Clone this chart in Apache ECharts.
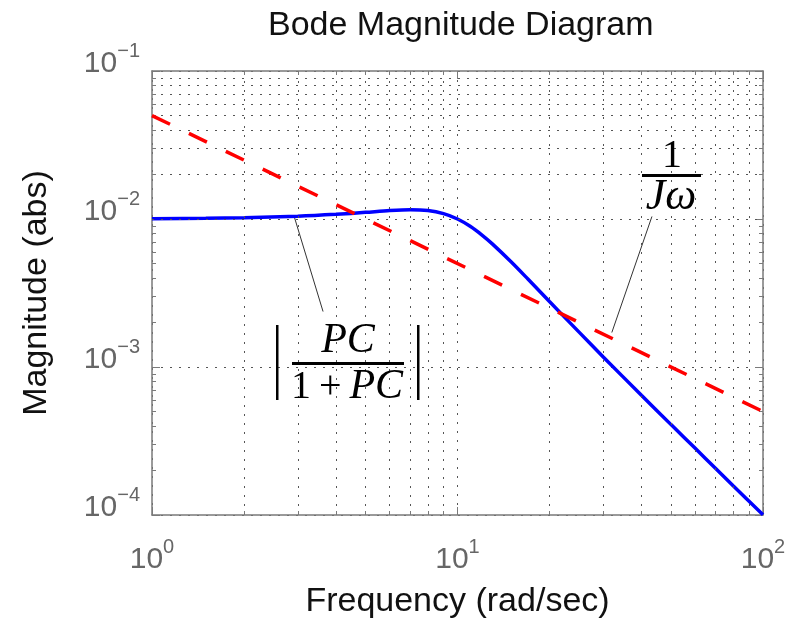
<!DOCTYPE html>
<html>
<head>
<meta charset="utf-8">
<script src="https://cdn.jsdelivr.net/npm/echarts@6/dist/echarts.min.js"></script>
<style>
  html, body { margin: 0; padding: 0; background: #fff; }
  #chart { width: 806px; height: 625px; }
</style>
</head>
<body>
<div id="chart"></div>
<script>
// frequency samples (rad/sec)
const freq = [1, 1.5, 2, 3, 4, 5, 6, 7, 8, 9, 10, 11, 12, 13, 15, 17, 20, 25, 30, 40, 50, 60, 70, 80, 100];
// |PC/(1+PC)|
const closedLoop = [0.01005, 0.01011, 0.0102, 0.01044, 0.01075, 0.01109, 0.0114, 0.01155, 0.0114, 0.01087,
  0.0100, 0.00893, 0.00782, 0.00679, 0.00512, 0.00393, 0.00277, 0.00172, 0.00117, 0.000644,
  0.000408, 0.000282, 0.000206, 0.000157, 0.0001005];
// 1/(J w) reference line (red dashed)
const refFreq = [1, 100];
const refMag = [0.05, 0.0005];
// leader lines from the annotations to the curves
const leaderPC = [[2.92, 0.0104], [3.63, 0.00237]];
const leaderJw = [[43.3, 0.0104], [32.0, 0.00171]];
// minor grid positions
const xMinor = [2, 3, 4, 5, 6, 7, 8, 9, 20, 30, 40, 50, 60, 70, 80, 90];
const yMinor = [2e-4, 3e-4, 4e-4, 5e-4, 6e-4, 7e-4, 8e-4, 9e-4,
  2e-3, 3e-3, 4e-3, 5e-3, 6e-3, 7e-3, 8e-3, 9e-3,
  2e-2, 3e-2, 4e-2, 5e-2, 6e-2, 7e-2, 8e-2, 9e-2];

const FONT = "'Liberation Sans', Arial, sans-serif";
const MATH = "'Liberation Serif', 'DejaVu Serif', serif";
const G = { left: 152, right: 43, top: 71, bottom: 110 };
const plotW = 806 - G.left - G.right;   // x spans 2 decades
const plotH = 625 - G.top - G.bottom;   // y spans 3 decades
const frame = '#7a7a7a';
const gridStyle = { type: [2, 7], color: '#555', width: 1 };

// minor tick length 4px, expressed as a factor in data space
const kx = Math.pow(10, 4 / (plotW / 2));
const ky = Math.pow(10, 4 / (plotH / 3));

const gridLines = [];
xMinor.forEach(v => gridLines.push({ xAxis: v }));
yMinor.forEach(v => gridLines.push({ yAxis: v }));

const minorTicks = [];
xMinor.forEach(v => {
  minorTicks.push([{ coord: [v, 1e-4] }, { coord: [v, 1e-4 * ky] }]);
  minorTicks.push([{ coord: [v, 0.1] }, { coord: [v, 0.1 / ky] }]);
});
yMinor.forEach(v => {
  minorTicks.push([{ coord: [1, v] }, { coord: [kx, v] }]);
  minorTicks.push([{ coord: [100, v] }, { coord: [100 / kx, v] }]);
});

function powLabel(v) {
  const e = Math.round(Math.log10(v));
  return '{b|10}{s|' + (e < 0 ? '\u2212' + (-e) : e) + '}';
}
const labelRich = {
  b: { fontSize: 30, color: '#666', fontFamily: FONT },
  s: { fontSize: 20, color: '#666', fontFamily: FONT, padding: [0, 0, 26, 0] }
};

const chart = echarts.init(document.getElementById('chart'));
chart.setOption({
  animation: false,
  backgroundColor: '#fff',
  title: {
    text: 'Bode Magnitude Diagram',
    left: 263,
    top: 4,
    textStyle: { fontSize: 34, fontWeight: 'normal', color: '#111', fontFamily: FONT }
  },
  grid: { left: G.left, right: G.right, top: G.top, bottom: G.bottom, containLabel: false, outerBoundsMode: 'none' },
  xAxis: [
    {
      type: 'log', logBase: 10, min: 1, max: 100, position: 'bottom',
      name: 'Frequency (rad/sec)', nameLocation: 'middle', nameGap: 70,
      nameTextStyle: { fontSize: 34, color: '#111', fontFamily: FONT },
      axisLine: { lineStyle: { color: frame, width: 1.5 } },
      axisTick: { inside: true, length: 8, lineStyle: { color: frame } },
      axisLabel: { formatter: powLabel, rich: labelRich, margin: 22 },
      splitLine: { show: true, lineStyle: gridStyle }
    },
    {
      type: 'log', logBase: 10, min: 1, max: 100, position: 'top',
      axisLine: { lineStyle: { color: frame, width: 1.5 } },
      axisTick: { inside: true, length: 8, lineStyle: { color: frame } },
      axisLabel: { show: false },
      splitLine: { show: false }
    }
  ],
  yAxis: [
    {
      type: 'log', logBase: 10, min: 1e-4, max: 1e-1, position: 'left',
      name: 'Magnitude (abs)', nameLocation: 'middle', nameGap: 98,
      nameTextStyle: { fontSize: 34, color: '#111', fontFamily: FONT },
      axisLine: { show: true, lineStyle: { color: frame, width: 1.5 } },
      axisTick: { show: true, inside: true, length: 8, lineStyle: { color: frame } },
      axisLabel: { formatter: powLabel, rich: labelRich, margin: 12, verticalAlign: 'middle', padding: [0, 0, 14, 0] },
      splitLine: { show: true, lineStyle: gridStyle }
    },
    {
      type: 'log', logBase: 10, min: 1e-4, max: 1e-1, position: 'right',
      axisLine: { show: true, lineStyle: { color: frame, width: 1.5 } },
      axisTick: { show: true, inside: true, length: 8, lineStyle: { color: frame } },
      axisLabel: { show: false },
      splitLine: { show: false }
    }
  ],
  series: [
    {
      name: 'grid', type: 'line', data: [], z: 1, silent: true,
      markLine: {
        silent: true, symbol: 'none', label: { show: false }, animation: false,
        lineStyle: gridStyle,
        data: gridLines
      }
    },
    {
      name: 'ticks', type: 'line', data: [], z: 1, silent: true,
      markLine: {
        silent: true, symbol: 'none', label: { show: false }, animation: false,
        lineStyle: { type: 'solid', color: frame, width: 1 },
        data: minorTicks
      }
    },
    {
      name: 'leaderPC', type: 'line', data: leaderPC, symbol: 'none', z: 3,
      lineStyle: { color: '#333', width: 1 }
    },
    {
      name: 'leaderJw', type: 'line', data: leaderJw, symbol: 'none', z: 3,
      lineStyle: { color: '#333', width: 1 }
    },
    {
      name: 'closed loop', type: 'line', z: 4,
      data: freq.map((f, i) => [f, closedLoop[i]]),
      symbol: 'none', smooth: 0.3,
      lineStyle: { color: '#0000ff', width: 3.5 }
    },
    {
      name: '1/Jw', type: 'line', z: 5,
      data: refFreq.map((f, i) => [f, refMag[i]]),
      symbol: 'none',
      lineStyle: { color: '#ff0000', width: 3.5, type: [20, 21] }
    }
  ],
  graphic: [
    // |PC / (1+PC)|
    { type: 'text', x: 348, y: 341, z: 10,
      style: { text: 'PC', font: 'italic 42px ' + MATH, fill: '#000', align: 'center', verticalAlign: 'middle' } },
    { type: 'rect', shape: { x: 292, y: 362, width: 112, height: 3 }, z: 10, style: { fill: '#000' } },
    { type: 'text', x: 347, y: 387, z: 10,
      style: {
        text: '{r|1\u2009+\u2009}{i|PC}', align: 'center', verticalAlign: 'middle', fill: '#000',
        rich: { r: { font: '40px ' + MATH, fill: '#000' }, i: { font: 'italic 42px ' + MATH, fill: '#000' } }
      } },
    { type: 'rect', shape: { x: 276, y: 325, width: 2.5, height: 75 }, z: 10, style: { fill: '#000' } },
    { type: 'rect', shape: { x: 417, y: 325, width: 2.5, height: 75 }, z: 10, style: { fill: '#000' } },
    // 1 / (J w)
    { type: 'text', x: 672, y: 156, z: 10,
      style: { text: '1', font: '40px ' + MATH, fill: '#000', align: 'center', verticalAlign: 'middle' } },
    { type: 'rect', shape: { x: 642, y: 174, width: 59, height: 3 }, z: 10, style: { fill: '#000' } },
    { type: 'text', x: 671, y: 197, z: 10,
      style: { text: 'J\u03c9', font: 'italic 44px ' + MATH, fill: '#000', align: 'center', verticalAlign: 'middle' } }
  ]
});
</script>
</body>
</html>
